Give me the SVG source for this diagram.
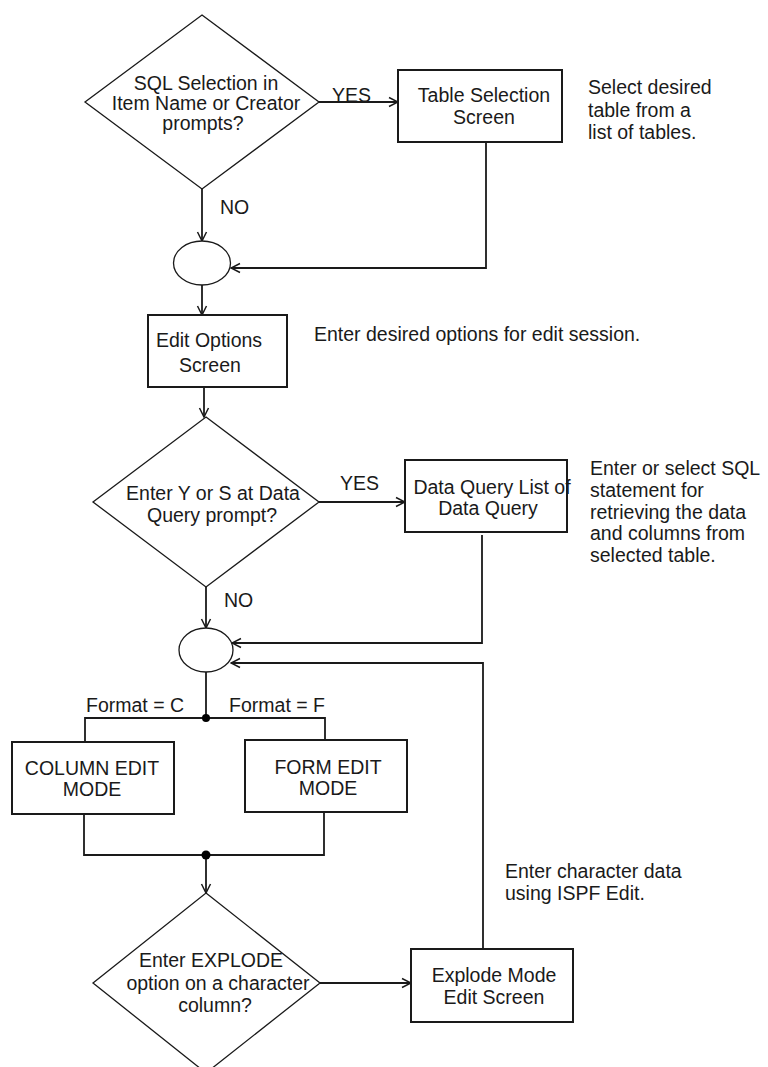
<svg xmlns="http://www.w3.org/2000/svg" width="768" height="1067" viewBox="0 0 768 1067">
<style>
  .t { font-family: "Liberation Sans", Arial, sans-serif; font-size: 19.5px; fill: #1a1a1a; }
  .c { text-anchor: middle; }
  .box { fill: #fff; stroke: #1a1a1a; stroke-width: 2; }
  .dia { fill: #fff; stroke: #1a1a1a; stroke-width: 1.3; }
  .ell { fill: #fff; stroke: #1a1a1a; stroke-width: 1.3; }
  .ln { fill: none; stroke: #1a1a1a; stroke-width: 1.8; }
  .arr { marker-end: url(#ah); }
  .dot { fill: #000; }
</style>
<defs>
  <marker id="ah" viewBox="0 0 12 12" markerWidth="12" markerHeight="12" refX="11" refY="6" orient="auto" markerUnits="userSpaceOnUse">
    <path d="M2,1.5 L11,6 L2,10.5" fill="none" stroke="#1a1a1a" stroke-width="1.5"/>
  </marker>
</defs>

<g id="connectors">
  <path class="ln arr" d="M319,102 L398,102"/>
  <path class="ln arr" d="M202,189 L202,241"/>
  <path class="ln arr" d="M486,142 L486,268 L231,268"/>
  <path class="ln arr" d="M202,285 L202,315"/>
  <path class="ln arr" d="M204,387 L204,417"/>
  <path class="ln arr" d="M319,502 L405,502"/>
  <path class="ln arr" d="M206,587 L206,628"/>
  <path class="ln arr" d="M482,535 L482,643 L232,643"/>
  <path class="ln arr" d="M483,949 L483,663 L231,663"/>
  <path class="ln" d="M206,672 L206,718"/>
  <path class="ln" d="M85,742 L85,718 L325,718 L325,740"/>
  <path class="ln" d="M84,814 L84,855 L324,855 L324,812"/>
  <path class="ln arr" d="M206,855 L206,893"/>
  <path class="ln arr" d="M320,983 L411,983"/>
  <circle class="dot" cx="206" cy="718" r="4"/>
  <circle class="dot" cx="206" cy="855" r="4.5"/>
</g>

<g id="d1">
  <polygon class="dia" points="202,15 319,102 202,189 85,102"/>
  <text class="t c" x="206" y="90">SQL Selection in</text>
  <text class="t c" x="206" y="110">Item Name or Creator</text>
  <text class="t c" x="203" y="130">prompts?</text>
</g>
<g id="yes1"><text class="t" x="332" y="102">YES</text></g>
<g id="no1"><text class="t" x="220" y="214">NO</text></g>

<g id="table-sel">
  <rect class="box" x="398" y="70" width="164" height="72"/>
  <text class="t c" x="484" y="102">Table Selection</text>
  <text class="t c" x="484" y="124">Screen</text>
</g>
<g id="note1">
  <text class="t" x="588" y="94">Select desired</text>
  <text class="t" x="588" y="117">table from a</text>
  <text class="t" x="588" y="139">list of tables.</text>
</g>

<g id="circle1"><ellipse class="ell" cx="202" cy="263" rx="28.5" ry="22"/></g>

<g id="edit-options">
  <rect class="box" x="148" y="315" width="139" height="72"/>
  <text class="t c" x="209" y="347">Edit Options</text>
  <text class="t c" x="210" y="372">Screen</text>
</g>
<g id="note2"><text class="t" x="314" y="341">Enter desired options for edit session.</text></g>

<g id="d2">
  <polygon class="dia" points="206,417 319,502 206,587 93,502"/>
  <text class="t c" x="213" y="500">Enter Y or S at Data</text>
  <text class="t c" x="212" y="522">Query prompt?</text>
</g>
<g id="yes2"><text class="t" x="340" y="490">YES</text></g>
<g id="no2"><text class="t" x="224" y="607">NO</text></g>

<g id="data-query">
  <rect class="box" x="405" y="460" width="162" height="72"/>
  <text class="t c" x="492" y="494">Data Query List of</text>
  <text class="t c" x="488" y="515">Data Query</text>
</g>
<g id="note3">
  <text class="t" x="590" y="475">Enter or select SQL</text>
  <text class="t" x="590" y="497">statement for</text>
  <text class="t" x="590" y="519">retrieving the data</text>
  <text class="t" x="590" y="540">and columns from</text>
  <text class="t" x="590" y="562">selected table.</text>
</g>

<g id="circle2"><ellipse class="ell" cx="206" cy="650" rx="27" ry="22"/></g>

<g id="fmt-c"><text class="t c" x="135" y="712">Format = C</text></g>
<g id="fmt-f"><text class="t c" x="277" y="712">Format = F</text></g>

<g id="column-edit">
  <rect class="box" x="12" y="742" width="162" height="72"/>
  <text class="t c" x="92" y="775">COLUMN EDIT</text>
  <text class="t c" x="92" y="796">MODE</text>
</g>
<g id="form-edit">
  <rect class="box" x="245" y="740" width="162" height="72"/>
  <text class="t c" x="328" y="774">FORM EDIT</text>
  <text class="t c" x="328" y="795">MODE</text>
</g>

<g id="note4">
  <text class="t" x="505" y="878">Enter character data</text>
  <text class="t" x="505" y="900">using ISPF Edit.</text>
</g>

<g id="d3">
  <polygon class="dia" points="206,893 320,983 206,1073 93,983"/>
  <text class="t c" x="211" y="967">Enter EXPLODE</text>
  <text class="t c" x="218" y="990">option on a character</text>
  <text class="t c" x="215" y="1012">column?</text>
</g>

<g id="explode">
  <rect class="box" x="411" y="949" width="162" height="73"/>
  <text class="t c" x="494" y="982">Explode Mode</text>
  <text class="t c" x="494" y="1004">Edit Screen</text>
</g>
</svg>
